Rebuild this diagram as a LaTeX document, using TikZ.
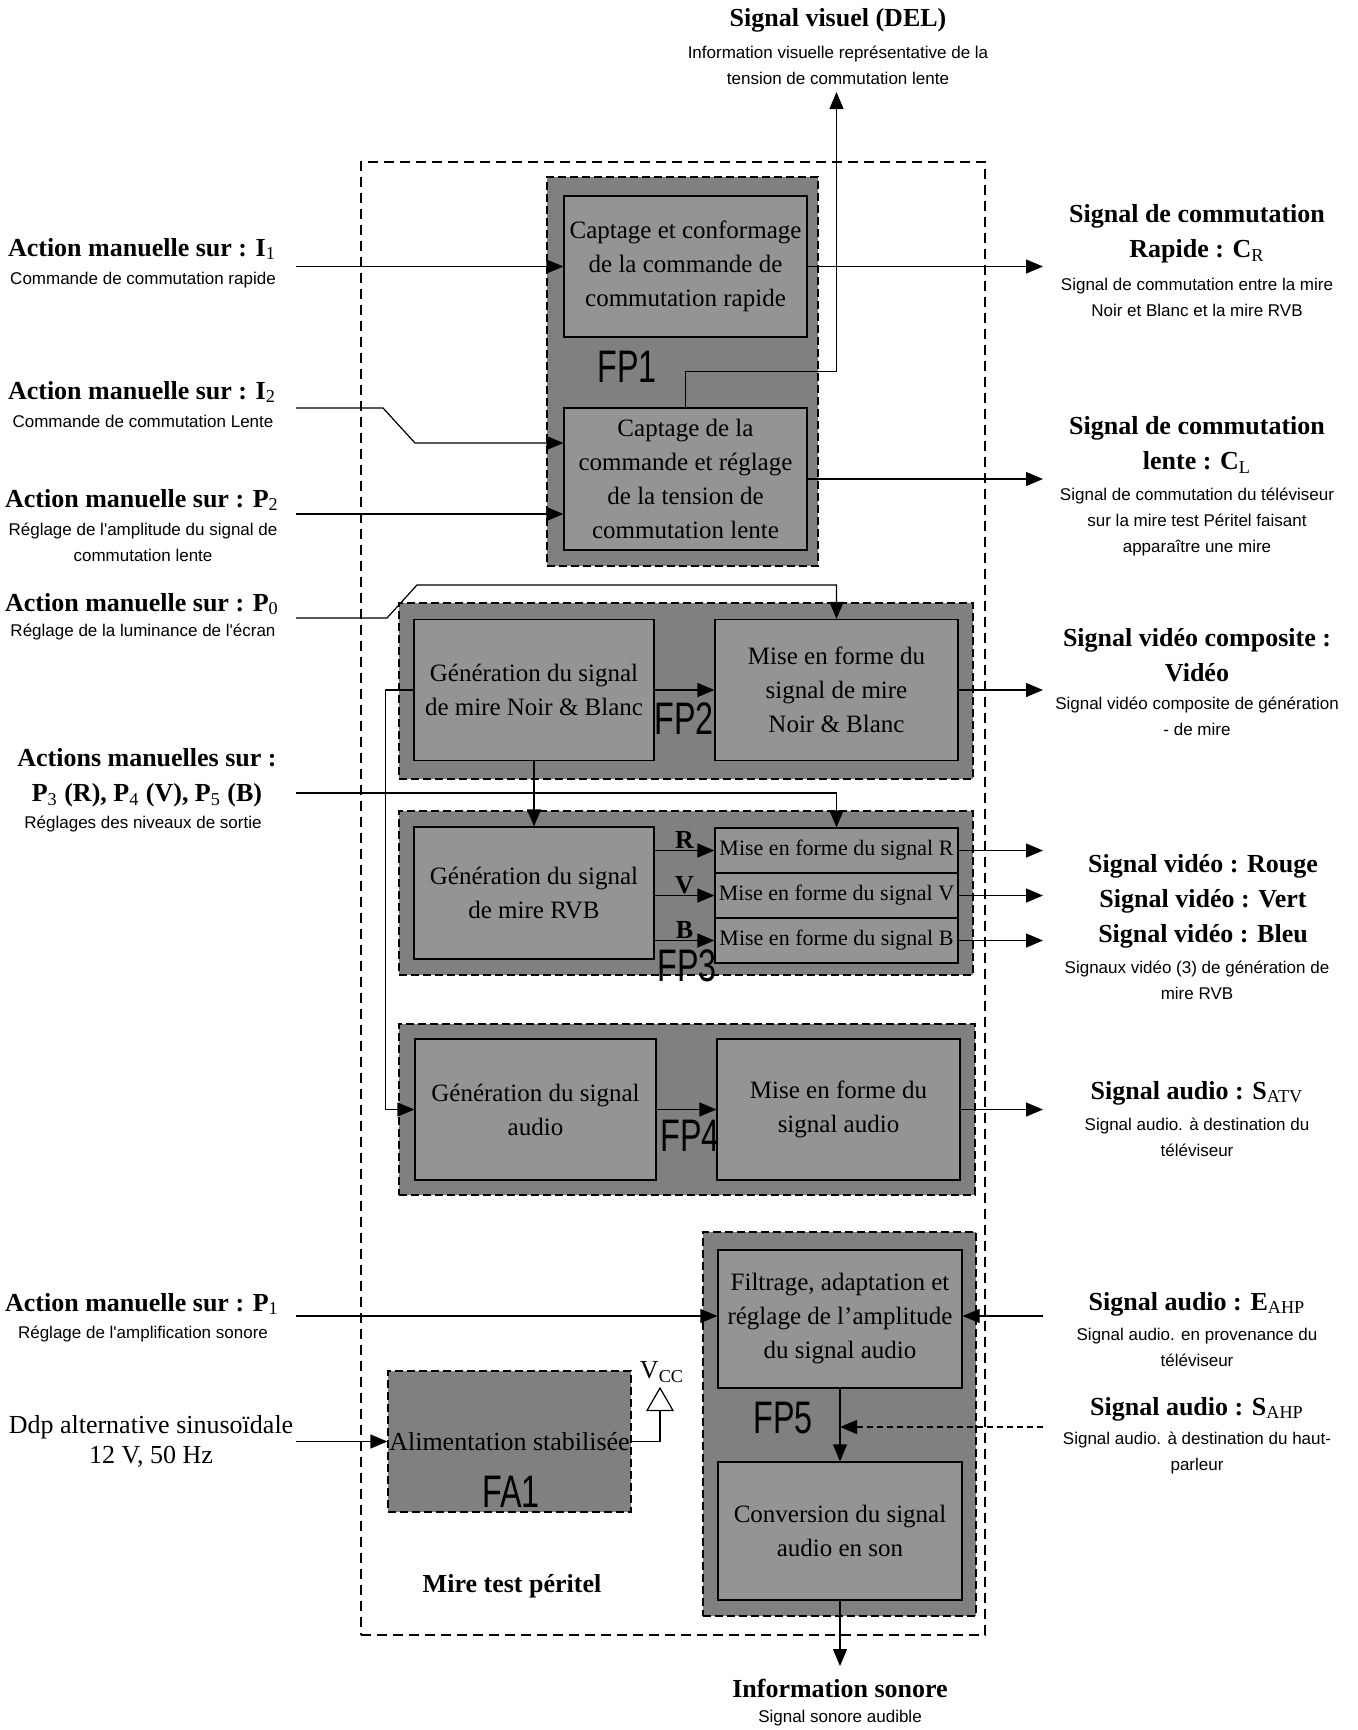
\documentclass[tikz,border=0pt]{standalone}
\usepackage{fontspec}
\usepackage{graphicx}
\setmainfont{Liberation Serif}
\newfontfamily\notefont{Liberation Sans}
\usetikzlibrary{calc,arrows.meta,shapes.geometric}
\newcommand\fnsub[1]{\textsubscript{\mdseries #1}}
\newcommand\fpname[1]{\scalebox{0.85}[1.2]{#1}}

\begin{document}
\begin{tikzpicture}[x=0.5pt,y=-0.5pt,line width=0.6pt,
    >={Triangle[length=8.5pt,width=7pt]},
    fngrp/.style={draw,dash pattern=on 4pt off 2pt,fill=black!50,inner sep=0pt},
    fnbox/.style={draw,fill=black!42,align=center,inner sep=0pt,
      minimum width=121.5pt,minimum height=70.5pt,font=\fontsize{12.5}{17}\selectfont},
    rvbbox/.style={fnbox,minimum height=22.5pt,font=\fontsize{11}{13}\selectfont},
    sigtitle/.style={align=center,font=\fontsize{13}{17.5}\selectfont\bfseries},
    sigplain/.style={align=center,font=\fontsize{13}{15}\selectfont},
    signote/.style={align=center,font=\notefont\fontsize{8.5}{13}\selectfont},
    fplabel/.style={font=\notefont\fontsize{19}{19}\selectfont,inner sep=0pt},
    rvbtxt/.style={font=\fontsize{13}{13}\selectfont\bfseries,inner sep=0.5pt}]
  \useasboundingbox[fill=white] (0,0) rectangle (1357,1730);

  % cadre mire test
  \node (mire) [draw,dash pattern=on 5pt off 3pt,line width=0.9pt,minimum width=312pt,minimum height=736.5pt] at (673,898.5) {};
  \node (miret) [sigtitle] at (512,1586) {Mire test péritel};

  % fonctions principales
  \node (fp1) [fngrp,minimum width=135.5pt,minimum height=194.5pt] at (682.5,371.5) {};
  \node (fp2) [fngrp,minimum width=287pt,minimum height=88pt] at (686,691) {};
  \node (fp3) [fngrp,minimum width=287pt,minimum height=82pt] at (686,893) {};
  \node (fp4) [fngrp,minimum width=288pt,minimum height=85.5pt] at (687,1109.5) {};
  \node (fp5) [fngrp,minimum width=136.5pt,minimum height=192pt] at (839.5,1424) {};
  \node (alim) [fngrp,minimum width=121.5pt,minimum height=70.5pt,font=\fontsize{13}{15}\selectfont] at (509.5,1441.5) {Alimentation stabilisée};

  \node (capR) [fnbox] at (685.5,266.5) {Captage et conformage\\de la commande de\\commutation rapide};
  \node (capL) [fnbox,minimum height=71pt] at (685.5,479) {Captage de la\\commande et réglage\\de la tension de\\commutation lente};
  \node (genNB) [fnbox,minimum width=120pt] at (534,690) {Génération du signal\\de mire Noir \& Blanc};
  \node (misNB) [fnbox] at (836.5,690) {Mise en forme du\\signal de mire\\Noir \& Blanc};
  \node (genRVB) [fnbox,minimum width=120pt,minimum height=66pt] at (534,893) {Génération du signal\\de mire RVB};
  \node (misR) [rvbbox] at (836.5,850.5) {Mise en forme du signal R};
  \node (misV) [rvbbox] at (836.5,895.5) {Mise en forme du signal V};
  \node (misB) [rvbbox] at (836.5,940.5) {Mise en forme du signal B};
  \node (genA) [fnbox,minimum width=120.5pt] at (535.5,1109.5) {Génération du signal\\audio};
  \node (misA) [fnbox] at (838.5,1109.5) {Mise en forme du\\signal audio};
  \node (filt) [fnbox,minimum width=122pt,minimum height=69pt] at (840,1319) {Filtrage, adaptation et\\réglage de l'amplitude\\du signal audio};
  \node (conv) [fnbox,minimum width=122pt,minimum height=69pt] at (840,1531) {Conversion du signal\\audio en son};

  \node (fp1t) [fplabel] at (627,367) {\fpname{FP1}};
  \node (fp2t) [fplabel] at (684,719) {\fpname{FP2}};
  \node (fp3t) [fplabel] at (687,966) {\fpname{FP3}};
  \node (fp4t) [fplabel] at (690,1136) {\fpname{FP4}};
  \node (fp5t) [fplabel] at (783,1418) {\fpname{FP5}};
  \node (fa1t) [fplabel] at (511,1492) {\fpname{FA1}};

  \node (vcc) [draw,regular polygon,regular polygon sides=3,minimum size=15pt,inner sep=0pt] at (660,1403) {};
  \node (vcct) [sigplain] at (662,1372) {V\textsubscript{CC}};

  % entrees
  \node (i1t) [sigtitle] at (142,249) {Action manuelle sur : I\fnsub{1}};
  \node (i1n) [signote] at (143,280) {Commande de commutation rapide};
  \node (i2t) [sigtitle] at (142,392) {Action manuelle sur : I\fnsub{2}};
  \node (i2n) [signote] at (143,421) {Commande de commutation Lente};
  \node (p2t) [sigtitle] at (142,500) {Action manuelle sur : P\fnsub{2}};
  \node (p2n) [signote] at (143,542) {Réglage de l'amplitude du signal de\\commutation lente};
  \node (p0t) [sigtitle] at (142,604) {Action manuelle sur : P\fnsub{0}};
  \node (p0n) [signote] at (143,632) {Réglage de la luminance de l'écran};
  \node (p3t) [sigtitle] at (147,778) {Actions manuelles sur :\\P\fnsub{3} (R), P\fnsub{4} (V), P\fnsub{5} (B)};
  \node (p3n) [signote] at (143,824) {Réglages des niveaux de sortie};
  \node (p1t) [sigtitle] at (142,1304) {Action manuelle sur : P\fnsub{1}};
  \node (p1n) [signote] at (143,1334) {Réglage de l'amplification sonore};
  \node (ddpt) [sigplain] at (151,1441.5) {Ddp alternative sinusoïdale\\12 V, 50 Hz};

  % sorties
  \node (delt) [sigtitle] at (838,20) {Signal visuel (DEL)};
  \node (deln) [signote] at (838,65) {Information visuelle représentative de la\\tension de commutation lente};
  \node (crt) [sigtitle] at (1197,234) {Signal de commutation\\Rapide : C\fnsub{R}};
  \node (crn) [signote] at (1197,297) {Signal de commutation entre la mire\\Noir et Blanc et la mire RVB};
  \node (clt) [sigtitle] at (1197,445) {Signal de commutation\\lente : C\fnsub{L}};
  \node (cln) [signote] at (1197,522) {Signal de commutation du téléviseur\\sur la mire test Péritel faisant\\apparaître une mire};
  \node (vidt) [sigtitle] at (1197,655) {Signal vidéo composite :\\Vidéo};
  \node (vidn) [signote] at (1197,716) {Signal vidéo composite de génération\\- de mire};
  \node (rvbt) [sigtitle] at (1203,901) {Signal vidéo : Rouge\\Signal vidéo : Vert\\Signal vidéo : Bleu};
  \node (rvbn) [signote] at (1197,980) {Signaux vidéo (3) de génération de\\mire RVB};
  \node (atvt) [sigtitle] at (1197,1093) {Signal audio : S\fnsub{ATV}};
  \node (atvn) [signote] at (1197,1137) {Signal audio. à destination du\\téléviseur};
  \node (eahpt) [sigtitle] at (1197,1304) {Signal audio : E\fnsub{AHP}};
  \node (eahpn) [signote] at (1197,1347) {Signal audio. en provenance du\\téléviseur};
  \node (sahpt) [sigtitle] at (1197,1409) {Signal audio : S\fnsub{AHP}};
  \node (sahpn) [signote] at (1197,1453) {Signal audio. à destination du haut-\\parleur};
  \node (sont) [sigtitle] at (840,1688) {Information sonore};
  \node (sonn) [signote] at (840,1718) {Signal sonore audible};

  % points d'entree / sortie des liaisons
  \coordinate (i1in) at (296,266.5);
  \coordinate (i2in) at (296,408);
  \coordinate (p2in) at (296,514);
  \coordinate (p0in) at (296,618);
  \coordinate (p3in) at (296,793);
  \coordinate (p1in) at (296,1316);
  \coordinate (ddpin) at (296,1441.5);
  \coordinate (delout) at (836.5,92);
  \coordinate (crout) at (1043,266.5);
  \coordinate (eahpin) at (1043,1316);
  \coordinate (sahpin) at (1043,1427);
  \coordinate (sonout) at (840,1666);

  \draw [->] (i1in) -- (capR.west);
  \draw [->] (i2in) -- ++(87,0) -- ++(32,35) coordinate (i2b) -- (i2b -| capL.west);
  \draw [->] (p2in) -- (p2in -| capL.west);
  \draw [->] (capL.north) -- ++(0,-36) -| (delout);
  \draw [->] (capR.east) -- (crout);
  \draw [->] (capL.east) -- (capL.east -| crout);
  \draw [->] (p0in) -- ++(91,0) -- ++(30,-33) -| (misNB.north);
  \draw [->] (genNB.east) -- (misNB.west);
  \draw [->] (misNB.east) -- (misNB.east -| crout);
  \draw [->] (genNB.south) -- (genRVB.north);
  \draw [->] (p3in) -| (misR.north);
  \draw [->] (genNB.west) -- ++(-28,0) |- (genA.west);
  \draw [->] (genRVB.east |- misR.west) -- node [above,rvbtxt] {R} (misR.west);
  \draw [->] (genRVB.east |- misV.west) -- node [above,rvbtxt] {V} (misV.west);
  \draw [->] (genRVB.east |- misB.west) -- node [above,rvbtxt] {B} (misB.west);
  \draw [->] (misR.east) -- (misR.east -| crout);
  \draw [->] (misV.east) -- (misV.east -| crout);
  \draw [->] (misB.east) -- (misB.east -| crout);
  \draw [->] (genA.east) -- (misA.west);
  \draw [->] (misA.east) -- (misA.east -| crout);
  \draw [->] (p1in) -- (p1in -| filt.west);
  \draw [->] (eahpin) -- (eahpin -| filt.east);
  \draw [->] (filt.south) -- (conv.north);
  \draw [->,dash pattern=on 3pt off 2pt] (sahpin) -- (sahpin -| filt.south);
  \draw [->] (conv.south) -- (sonout);
  \draw [->] (ddpin) -- (alim.west);
  \draw (alim.east) -| (vcc.south);
\end{tikzpicture}
\end{document}
